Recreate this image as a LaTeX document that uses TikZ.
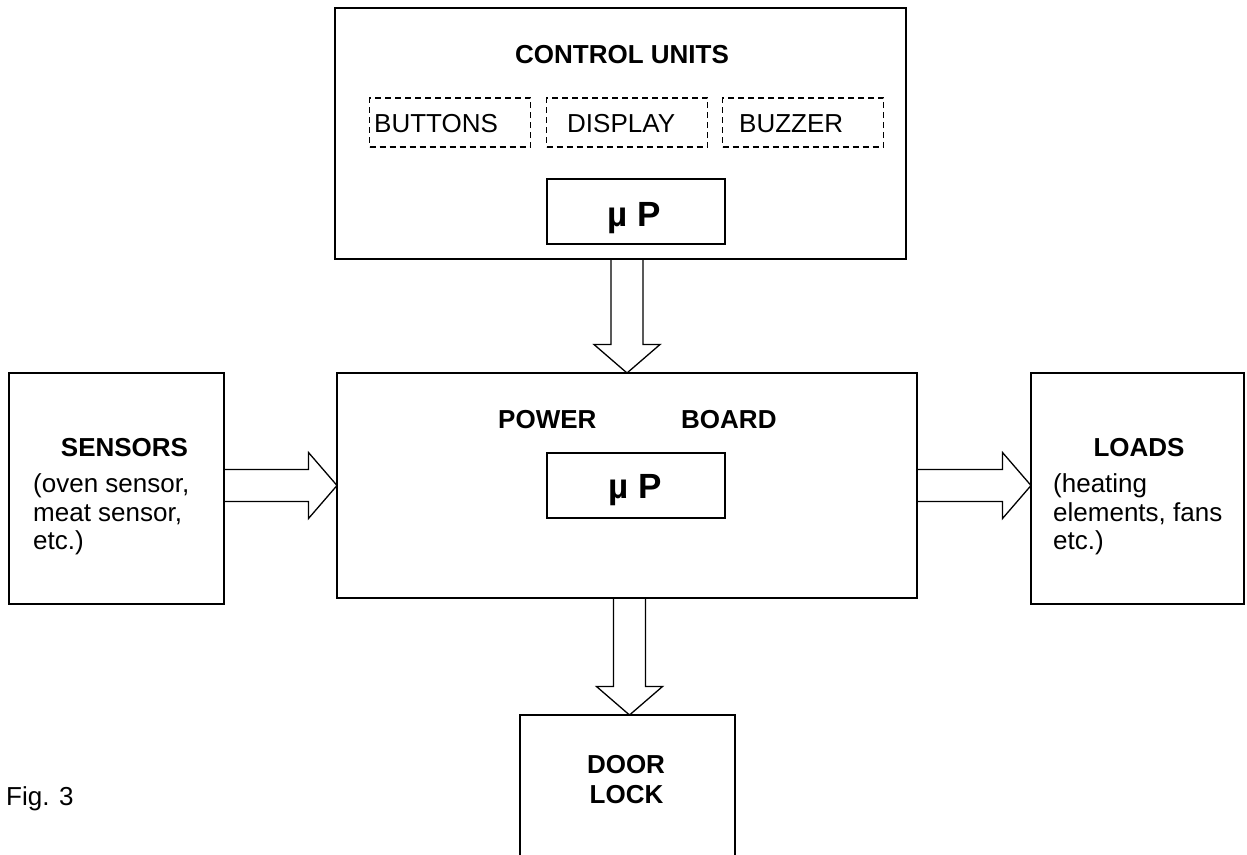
\documentclass[tikz,border=0pt]{standalone}
\usepackage{fontspec}
\setmainfont{Liberation Sans}
\usetikzlibrary{calc}
\tikzset{
  box/.style={draw, rectangle, line width=1.3pt, inner sep=0pt, outer sep=0pt},
  dbox/.style={draw, rectangle, line width=1.2pt, dash pattern=on 6pt off 4pt, inner sep=0pt, outer sep=0pt},
  blockarr/.style={draw, line width=1.3pt, line join=miter},
  txt/.style={inner sep=0pt, font=\fontsize{26}{28.5}\selectfont},
  btxt/.style={inner sep=0pt, font=\fontsize{26}{28.5}\selectfont\bfseries},
  mptxt/.style={inner sep=0pt, font=\fontsize{35}{40}\selectfont\bfseries},
}
\newcommand{\barrowdown}[2]{%
  \draw[blockarr] ($(#1)+(-16,0)$) -- ($(#2)+(-16,-28.5)$) -- ($(#2)+(-33,-28.5)$) -- (#2)
    -- ($(#2)+(33,-28.5)$) -- ($(#2)+(16,-28.5)$) -- ($(#1)+(16,0)$);}
\newcommand{\barrowright}[2]{%
  \draw[blockarr] ($(#1)+(0,-16)$) -- ($(#2)+(-28.5,-16)$) -- ($(#2)+(-28.5,-33)$) -- (#2)
    -- ($(#2)+(-28.5,33)$) -- ($(#2)+(-28.5,16)$) -- ($(#1)+(0,16)$);}
\begin{document}
\begin{tikzpicture}[x=1pt,y=-1pt]
\useasboundingbox (0,0) rectangle (1247,854);
\clip (0,0) rectangle (1247,854);

% boxes
\node[box, minimum width=571pt, minimum height=251pt] (cu) at (620.5,133.5) {};
\node[dbox, minimum width=161pt, minimum height=49pt] (btn) at (450,122.5) {};
\node[dbox, minimum width=161pt, minimum height=49pt] (disp) at (627,122.5) {};
\node[dbox, minimum width=161pt, minimum height=49pt] (buz) at (803,122.5) {};
\node[box, minimum width=178pt, minimum height=65pt] (mp1) at (636,211.5) {};
\node[box, minimum width=580pt, minimum height=225pt] (pb) at (627,485.5) {};
\node[box, minimum width=178pt, minimum height=65pt] (mp2) at (636,485.5) {};
\node[box, minimum width=215pt, minimum height=231pt] (sen) at (116.5,488.5) {};
\node[box, minimum width=213pt, minimum height=231pt] (loads) at (1137.5,488.5) {};
\node[box, minimum width=215pt, minimum height=165pt] (door) at (627.5,797.5) {};

% texts
\node[btxt, anchor=base] (tcu) at (622,63) {CONTROL UNITS};
\node[txt, anchor=base west] (tbtn) at (374,132) {BUTTONS};
\node[txt, anchor=base west] (tdisp) at (567,132) {DISPLAY};
\node[txt, anchor=base west] (tbuz) at (739,132) {BUZZER};
\node[mptxt, anchor=base] (tmp1) at (634.5,226) {µ P};
\node[btxt, anchor=base west] (tpow) at (498,428) {POWER};
\node[btxt, anchor=base west] (tboard) at (681,428) {BOARD};
\node[mptxt, anchor=base] (tmp2) at (635,498) {µ P};
\node[btxt, anchor=base] (tsen) at (124.5,456) {SENSORS};
\node[txt, anchor=base west] (ts1) at (33,492) {(oven sensor,};
\node[txt, anchor=base west] (ts2) at (33,521) {meat sensor,};
\node[txt, anchor=base west] (ts3) at (33,549) {etc.)};
\node[btxt, anchor=base] (tload) at (1139,456) {LOADS};
\node[txt, anchor=base west] (tl1) at (1053,492) {(heating};
\node[txt, anchor=base west] (tl2) at (1053,521) {elements, fans};
\node[txt, anchor=base west] (tl3) at (1053,549) {etc.)};
\node[btxt, anchor=base] (tdoor) at (626,773) {DOOR};
\node[btxt, anchor=base] (tlock) at (626.5,803) {LOCK};
\node[txt, anchor=base west] (tfig) at (6,805) {Fig. 3};

% block arrows
\coordinate (a1s) at ($(cu.south)+(6.5,0)$);
\coordinate (a1t) at (a1s |- pb.north);
\barrowdown{a1s}{a1t}
\coordinate (a2s) at ($(pb.south)+(2.5,0)$);
\coordinate (a2t) at (a2s |- door.north);
\barrowdown{a2s}{a2t}
\coordinate (a3s) at (sen.east |- pb.west);
\coordinate (a3t) at (pb.west);
\barrowright{a3s}{a3t}
\coordinate (a4s) at (pb.east);
\coordinate (a4t) at (loads.west |- pb.east);
\barrowright{a4s}{a4t}
\end{tikzpicture}
\end{document}
